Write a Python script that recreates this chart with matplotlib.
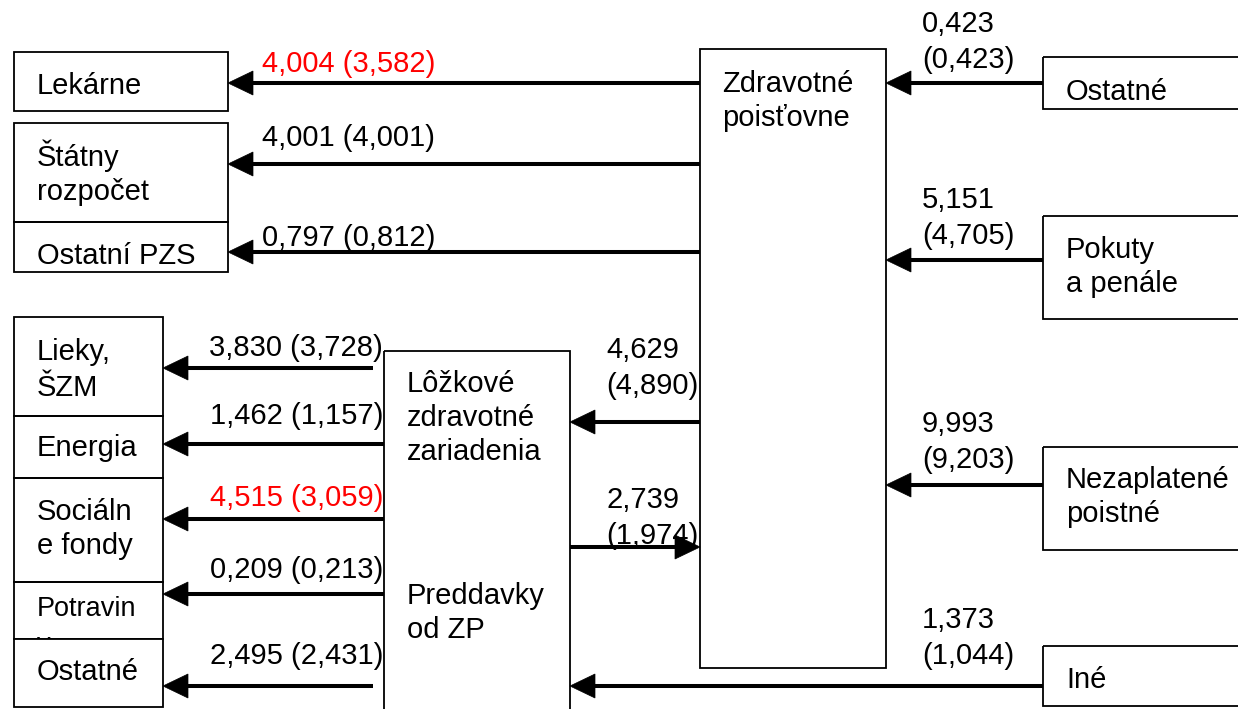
import matplotlib
matplotlib.use("Agg")
import matplotlib.pyplot as plt
from matplotlib.patches import Rectangle, Polygon

plt.rcParams['font.family'] = ['Liberation Sans', 'DejaVu Sans']

# ---------------- data ----------------
# outflows of health insurers (Zdravotné poisťovne)
out_nodes = ["Lekárne", "Štátny\nrozpočet", "Ostatní PZS"]
out_cur = [4.004, 4.001, 0.797]
out_prev = [3.582, 4.001, 0.812]
out_red = [True, False, False]

# costs of inpatient facilities (Lôžkové zdravotné zariadenia)
cost_nodes = ["Lieky,\nŠZM", "Energia", "Sociáln\ne fondy", "Potravin\ny", "Ostatné"]
cost_cur = [3.830, 1.462, 4.515, 0.209, 2.495]
cost_prev = [3.728, 1.157, 3.059, 0.213, 2.431]
cost_red = [False, False, True, False, False]

# inflows to health insurers
in_nodes = ["Ostatné", "Pokuty\na penále", "Nezaplatené\npoistné", "Iné"]
in_cur = [0.423, 5.151, 9.993, 1.373]
in_prev = [0.423, 4.705, 9.203, 1.044]

hub_zp = "Zdravotné\npoisťovne"
hub_lz = "Lôžkové\nzdravotné\nzariadenia"
hub_lz2 = "Preddavky\nod ZP"
zp_to_lz = (4.629, 4.890)
lz_to_zp = (2.739, 1.974)

# ---------------- layout (pixel space) ----------------
W, H = 1238, 709
FS = 21
LS = 35
DY = 1.5
RED = '#ff0000'
fig = plt.figure(figsize=(W / 100, H / 100), dpi=100)
ax = fig.add_axes([0, 0, 1, 1])
ax.set_xlim(0, W)
ax.set_ylim(H, 0)
ax.axis('off')


def fmt(v):
    return f"{v:.3f}".replace('.', ',')


def box(x0, y0, x1, y1, z=2, fc='none'):
    ax.add_patch(Rectangle((x0, y0), x1 - x0, y1 - y0, fill=(fc != 'none'),
                           facecolor=fc if fc != 'none' else 'white',
                           edgecolor='black', lw=1.3, zorder=z))


def txt(x, y, s, color='black', ha='left', z=3, fs=FS, ls=LS):
    for i, line in enumerate(s.split('\n')):
        ax.text(x, y + DY + i * ls, line, fontsize=fs, color=color, ha=ha,
                va='baseline', zorder=z)


def arrow(x0, x1, y):
    d = 1 if x1 > x0 else -1
    ax.plot([x0, x1 - d * 20], [y, y], color='black', lw=2.9,
            solid_capstyle='butt', zorder=4)
    ax.add_patch(Polygon([(x1, y), (x1 - d * 25, y - 12), (x1 - d * 25, y + 12)],
                         closed=True, facecolor='black', edgecolor='black',
                         lw=0.5, zorder=4))


# hub boxes
ZP = (700, 49, 886, 668)
LZ = (384, 351, 570, 720)
box(*ZP)
box(*LZ)
txt(722, 90, hub_zp, ls=34)
txt(407, 390, hub_lz, ls=34.5)
txt(407, 602, hub_lz2)

# outflows from insurers to the left
out_boxes = [(14, 52, 228, 111), (14, 123, 228, 222), (14, 222, 228, 272)]
out_text_y = [92, 164, 262]
out_arrow_y = [83, 164, 252]
out_label_y = [71, 145, 245]
for i, name in enumerate(out_nodes):
    box(*out_boxes[i])
    txt(37, out_text_y[i], name, ls=34)
    arrow(ZP[0], out_boxes[i][2], out_arrow_y[i])
    txt(262, out_label_y[i], f"{fmt(out_cur[i])} ({fmt(out_prev[i])})",
        color=RED if out_red[i] else 'black')

# costs of inpatient facilities
cost_boxes = [(14, 317, 163, 416), (14, 416, 163, 478), (14, 478, 163, 582),
              (14, 582, 163, 639), (14, 639, 163, 707)]
cost_text_y = [359, 455, 518, 615, 679]
cost_fs = [FS, FS, FS, 19.5, FS]
cost_arrow_y = [368, 444, 519, 594, 686]
cost_arrow_x0 = [373, 384, 384, 384, 373]
cost_label_y = [355, 423, 505, 577, 663]
for i, name in enumerate(cost_nodes):
    last = i == len(cost_nodes) - 1
    box(*cost_boxes[i], z=5 if last else 2, fc='white' if last else 'none')
    txt(37, cost_text_y[i], name, z=6 if last else 3, fs=cost_fs[i])
    arrow(cost_arrow_x0[i], cost_boxes[i][2], cost_arrow_y[i])
    txt(383, cost_label_y[i], f"{fmt(cost_cur[i])} ({fmt(cost_prev[i])})",
        color=RED if cost_red[i] else 'black', ha='right')

# inflows to insurers from the right
in_boxes = [(1043, 57, 1250, 109), (1043, 216, 1250, 319),
            (1043, 447, 1250, 550), (1043, 646, 1250, 706)]
in_text_y = [98, 256, 487, 686]
in_arrow_y = [83, 260, 485, 686]
in_label_y = [31, 207, 431, 627]
for i, name in enumerate(in_nodes):
    box(*in_boxes[i])
    txt(1066, in_text_y[i], name, ls=34)
    tip = ZP[2] if i < len(in_nodes) - 1 else LZ[2]
    arrow(in_boxes[i][0], tip, in_arrow_y[i])
    txt(922, in_label_y[i], f"{fmt(in_cur[i])}\n({fmt(in_prev[i])})")

# flows between insurers and facilities
arrow(ZP[0], LZ[2], 422)
txt(606, 357, f"{fmt(zp_to_lz[0])}\n({fmt(zp_to_lz[1])})")
arrow(LZ[2], ZP[0], 547)
txt(606, 507, f"{fmt(lz_to_zp[0])}\n({fmt(lz_to_zp[1])})")

fig.savefig("out.png", dpi=100)
